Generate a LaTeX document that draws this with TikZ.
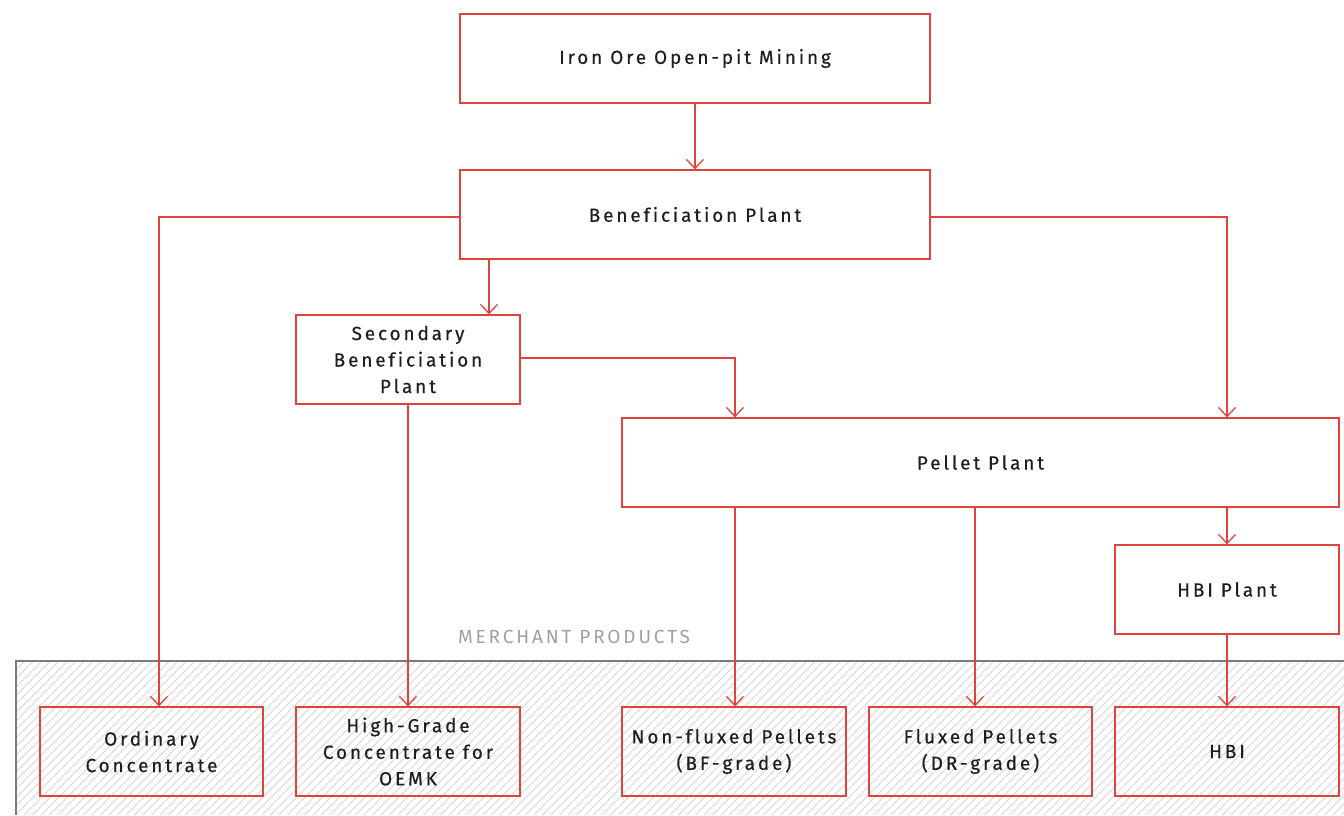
\documentclass[tikz,border=0pt]{standalone}
\usepackage{fontspec}
\setmainfont{Fira Sans}
\newfontfamily\lblfont[LetterSpace=15,FakeBold=0.4,Ligatures=CommonOff]{Fira Sans}
\newfontfamily\mpfont[LetterSpace=15]{Fira Sans}
\usetikzlibrary{arrows.meta}
\definecolor{lred}{HTML}{E0423C}
\definecolor{ltxt}{HTML}{1E1E1E}
\definecolor{hgray}{HTML}{D6D6D6}
\definecolor{bgray}{HTML}{7A7A7A}
\definecolor{mgray}{HTML}{A0A0A0}
\tikzset{
  box/.style={draw=lred, line width=1.3pt, rectangle, align=center, inner sep=0pt,
    minimum height=89pt, text=ltxt, font=\lblfont\fontsize{19}{26.5}\selectfont},
  conn/.style={draw=lred, line width=1.3pt, -{Straight Barb[length=9pt,width=17pt,line width=1.3pt]}},
}
\begin{document}
\begin{tikzpicture}[x=1pt,y=-1pt]
\useasboundingbox (0,0) rectangle (1344,815);
% merchant area
\begin{scope}
\clip (16,661) rectangle (1344,815);
\foreach \i in {-180,-171.5,...,1360} {
  \draw[hgray, line width=1pt] (\i,815) -- ++(180,-180);
}
\end{scope}
\draw[bgray, line width=1.2pt] (16,815) -- (16,661) -- (1344,661);
\node[text=mgray, font=\mpfont\fontsize{19}{20}\selectfont] (mp) at (574,637) {MERCHANT PRODUCTS};

% boxes
\node[box, minimum width=470pt] (mine) at (695,58.5) {Iron Ore Open-pit Mining};
\node[box, minimum width=470pt] (ben) at (695,214.5) {Beneficiation Plant};
\node[box, minimum width=224pt] (sec) at (408,359.5) {Secondary\\Beneficiation\\Plant};
\node[box, minimum width=717pt] (pel) at (980.5,462.5) {Pellet Plant};
\node[box, minimum width=224pt] (hbip) at (1227,589.5) {HBI Plant};
\node[box, minimum width=223pt] (ord) at (151.5,751.5) {Ordinary\\Concentrate};
\node[box, minimum width=224pt] (hg) at (408,751.5) {High-Grade\\Concentrate for\\OEMK};
\node[box, minimum width=224pt] (nf) at (734,751.5) {Non-fluxed Pellets\\(BF-grade)};
\node[box, minimum width=223pt] (fx) at (980.5,751.5) {Fluxed Pellets\\(DR-grade)};
\node[box, minimum width=224pt] (hbi) at (1227,751.5) {HBI};

% connectors
\draw[conn] (mine.south) -- (ben.north);
\draw[conn] (ben.west |- 0,217) -| (ord.north -| 159,0);
\draw[conn] (ben.east |- 0,217) -| (pel.north -| 1227,0);
\draw[conn] (ben.south -| 489,0) -- (sec.north -| 489,0);
\draw[conn] (sec.east |- 0,358) -| (pel.north -| 735,0);
\draw[conn] (sec.south) -- (hg.north);
\draw[conn] (pel.south -| 735,0) -- (nf.north -| 735,0);
\draw[conn] (pel.south -| 975,0) -- (fx.north -| 975,0);
\draw[conn] (pel.south -| 1227,0) -- (hbip.north);
\draw[conn] (hbip.south) -- (hbi.north);
\end{tikzpicture}
\end{document}
